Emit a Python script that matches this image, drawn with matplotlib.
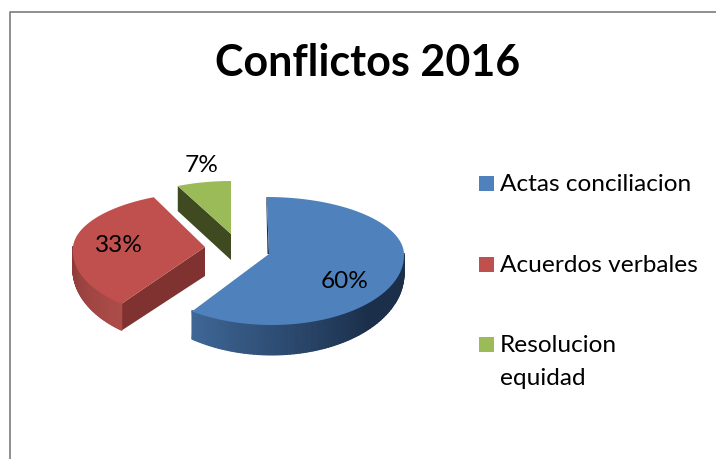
import numpy as np
import matplotlib
matplotlib.use("Agg")
from matplotlib import pyplot as plt
from matplotlib.colors import LinearSegmentedColormap
from matplotlib.patches import Rectangle

title = "Conflictos 2016"
labels = ["Actas conciliacion", "Acuerdos verbales", "Resolucion", "equidad"]
shares = [60, 33, 7]
pct_labels = ["60%", "33%", "7%"]

colors = ["#4f81bd", "#c0504d", "#9bbb59"]
side_dark = ["#1b2f4b", "#8c3a38", "#3f4a20"]
side_light = ["#3f6897", "#ad4d4a", "#3f4a20"]
cut_colors = ["#1b2f4b", "#7f3230", "#3f4a20"]

# apex in pixels, radius x, radius back, radius front, shear, depth
slices = [
    (269, 254, 135, 57, 71, 0.04, 30),
    (205, 247, 132, 55, 70, -0.1, 29),
    (231, 234, 125, 53, 70, 0.0, 26),
]
pct_pos = [(345, 281), (119, 246), (202, 165)]
legend_pos = [(179, 191), (260, 272), (340, 352)]


def rim(th, s):
    cx, cy, rx, back, front, shear, depth = s
    c = np.cos(th)
    dy = np.where(c > 0, -back * c, -front * c)
    return cx + rx * np.sin(th) + shear * dy, cy + dy


def drop(th, s):
    # depth is largest at the front and shrinks toward the sides
    return s[6] * (0.6 + 0.4 * np.abs(np.cos(th)))


fig = plt.figure(figsize=(7.16, 4.59), dpi=100)
ax = fig.add_axes([0, 0, 1, 1])
ax.set_xlim(0, 716)
ax.set_ylim(459, 0)
ax.axis("off")

# chart frame runs off the picture at right and bottom
ax.plot([720, 10, 10], [12, 12, 465], color="#868686", lw=1.3)

edges = np.cumsum([0] + shares) / sum(shares) * 2 * np.pi
for i, s in enumerate(slices):
    t0, t1 = edges[i], edges[i + 1]
    th = np.linspace(t0, t1, 160)
    x, y = rim(th, s)
    cx, cy = s[0], s[1]

    # flat cut faces
    if i == 0:
        ax.fill([x[0], cx, cx - 1.5, x[0] - 0.5], [y[0], cy, cy, y[0]], color=cut_colors[i], lw=0)
    else:
        xe, ye = rim(np.array([t0]), s)
        d = drop(t0, s)
        ax.fill([cx, xe[0], xe[0], cx], [cy, ye[0], ye[0] + d, cy + s[6]], color=cut_colors[i], lw=0)

    # outer wall, shaded along the rim
    a0, a1 = max(t0, np.pi / 2), min(t1, 1.5 * np.pi)
    if a1 > a0:
        wall = np.linspace(a0, a1, 90)
        wx, wy = rim(wall, s)
        wd = drop(wall, s)
        f = np.linspace(0, 1, len(wall))
        if i == 0:
            f = np.clip((f - 0.35) / 0.65, 0, 1)
        else:
            f = 1 - f
        cmap = LinearSegmentedColormap.from_list("wall", [side_dark[i], side_light[i]])
        ax.pcolormesh(np.vstack([wx, wx]), np.vstack([wy - 1, wy + wd]), np.vstack([f, f]),
                      cmap=cmap, vmin=0, vmax=1, shading="gouraud")

    # top face
    ax.fill(np.r_[cx, x], np.r_[cy, y], color=colors[i], lw=0)

ax.text(368, 63, title, family="Lato", weight="bold", fontsize=31, ha="center", va="center", color="black")

for (px, py), t in zip(pct_pos, pct_labels):
    ax.text(px, py, t, family="Lato", fontsize=17.6, ha="center", va="center", color="black")

for c, (sy, by), t in zip(colors, legend_pos, labels):
    ax.add_patch(Rectangle((479, sy - 3), 15, 15, color=c, lw=0))
    ax.text(500, by, t, family="Lato", fontsize=17.6, va="baseline", color="black")

# second line of the last entry
ax.text(500, legend_pos[2][1] + 33, labels[3], family="Lato", fontsize=17.6, va="baseline", color="black")

fig.savefig("out.png", dpi=100)
